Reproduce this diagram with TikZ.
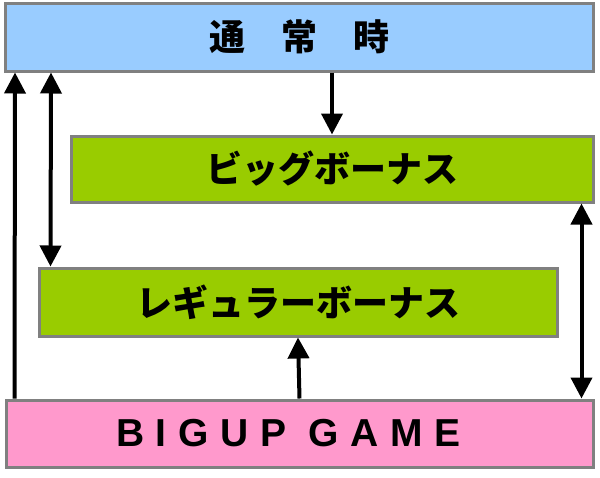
\documentclass[tikz,border=0pt]{standalone}
\usepackage{fontspec}
\usepackage{tikz}
\usetikzlibrary{arrows.meta}
\newfontfamily\jpfont{Noto Sans CJK JP}
\newfontfamily\gamefont{Liberation Sans}[LetterSpace=30]
\definecolor{tsujoblue}{HTML}{99CCFF}
\definecolor{bonusgreen}{HTML}{99CC00}
\definecolor{gamepink}{HTML}{FF99CC}

\begin{document}
\begin{tikzpicture}[x=1pt, y=-1pt,
        box/.style = {draw=gray, line width=3pt, inner sep=0pt, font=\jpfont\bfseries\fontsize{36}{36}\selectfont},
        arr/.style = {line width=4pt, -{Triangle[width=21pt, length=21pt]}},
        both/.style = {{Triangle[width=21pt, length=21pt]}-{Triangle[width=21pt, length=21pt]}}]
        \useasboundingbox (0,0) rectangle (600,477);
        \node[box, fill=tsujoblue, minimum width=588pt, minimum height=68pt] (tsujo) at (299.5,37) {通　常　時};
        \node[box, fill=bonusgreen, minimum width=522pt, minimum height=66pt] (big) at (332,169) {ビッグボーナス};
        \node[box, fill=bonusgreen, minimum width=518pt, minimum height=68pt] (reg) at (298,302) {レギュラーボーナス};
        \node[box, fill=gamepink, minimum width=587pt, minimum height=67pt,
              font=\gamefont\bfseries\fontsize{39}{39}\selectfont] (bigup) at (299.5,433.5) {BIGUP GAME\kern22pt};

        \draw[arr] ([xshift=10pt]bigup.north west) -- ([xshift=11pt]tsujo.south west);
        \draw[arr, both] ([xshift=47pt]tsujo.south west) -- ([xshift=13pt]reg.north west);
        \draw[arr] (tsujo.south -| big.north) -- (big.north);
        \draw[arr] (bigup.north) -- (reg.south);
        \draw[arr, both] ([xshift=-13pt]big.south east) -- ([xshift=-13pt]bigup.north east);
    \end{tikzpicture}
\end{document}
